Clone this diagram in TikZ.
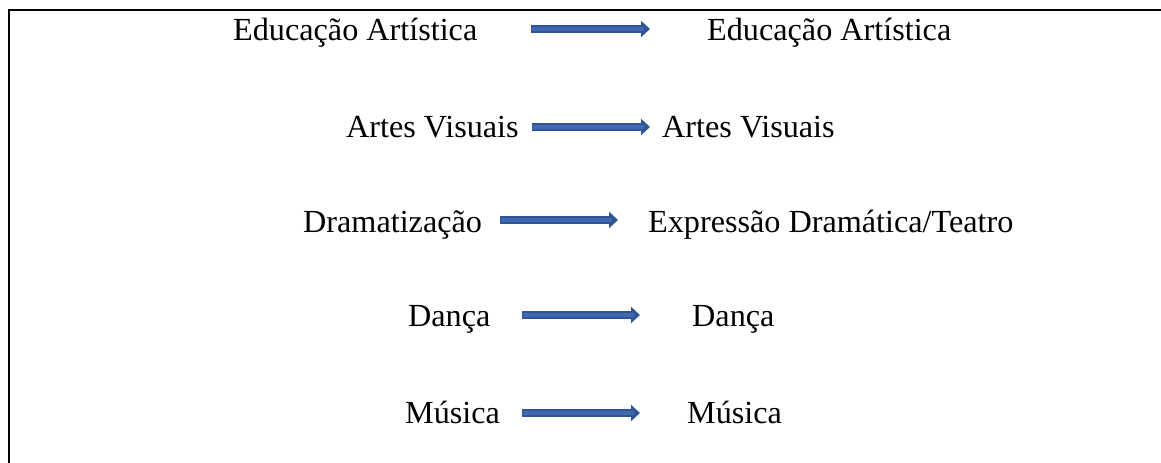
\documentclass[tikz,border=0pt]{standalone}
\usepackage{fontspec}
\setmainfont{Liberation Serif}
\usetikzlibrary{arrows.meta}
\definecolor{arrowfill}{HTML}{4169B2}
\definecolor{arrowedge}{HTML}{2F5597}
\tikzset{
  lbl/.style={anchor=base west, inner sep=0pt, font=\fontsize{32.2bp}{38bp}\selectfont},
  blockarrow/.style={arrowedge, line width=8bp, -{Triangle[length=9bp,width=16bp]}},
  blockinner/.style={arrowfill, line width=4bp, shorten >=6bp, shorten <=1bp},
  frameline/.style={black, line width=2.2bp}
}
\begin{document}
\begin{tikzpicture}[x=1bp,y=-1bp]
\useasboundingbox (0,0) rectangle (1161,463);
\coordinate (fl) at (9,463);
\coordinate (fc) at (9,10);
\coordinate (fr) at (1161,10);
\draw[frameline] (fl) -- (fc) -- (fr);

% texts
\node[lbl] (l1) at (233,41) {Educação Artística};
\node[lbl] (r1) at (707,41) {Educação Artística};
\node[lbl] (l2) at (346,138) {Artes Visuais};
\node[lbl] (r2) at (662,138) {Artes Visuais};
\node[lbl] (l3) at (303,233) {Dramatização};
\node[lbl] (r3) at (648,233) {Expressão Dramática/Teatro};
\node[lbl] (l4) at (408,327) {Dança};
\node[lbl] (r4) at (692,327) {Dança};
\node[lbl] (l5) at (405,424) {Música};
\node[lbl] (r5) at (687,424) {Música};

% arrow ends
\coordinate (a1s) at (531,29);  \coordinate (a1e) at (650,29);
\coordinate (a2s) at (532,127); \coordinate (a2e) at (650,127);
\coordinate (a3s) at (500,220); \coordinate (a3e) at (618,220);
\coordinate (a4s) at (522,315); \coordinate (a4e) at (640,315);
\coordinate (a5s) at (522,413); \coordinate (a5e) at (640,413);

\foreach \i in {1,...,5}{
  \draw[blockarrow] (a\i s) -- (a\i e);
  \draw[blockinner] (a\i s) -- (a\i e);
}
\end{tikzpicture}
\end{document}
